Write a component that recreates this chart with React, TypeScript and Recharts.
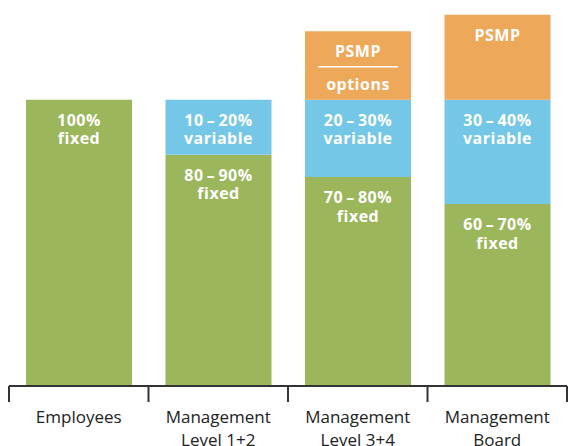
import React from "react";
import { BarChart, Bar, XAxis, YAxis, LabelList } from "recharts";

const categories = ["Employees", "Management|Level 1+2", "Management|Level 3+4", "Management|Board"];
const fixedValues = [100, 80.8, 73, 63.6];
const variableValues = [0, 19.2, 27, 36.4];
const psmpValues = [0, 0, 24, 29.7];
const DASH = "\u2009\u2013\u2009";
const fixedLabels = ["100%", `80${DASH}90%`, `70${DASH}80%`, `60${DASH}70%`];
const variableLabels = ["", `10${DASH}20%`, `20${DASH}30%`, `30${DASH}40%`];
const psmpLabels = ["", "", "PSMP", "PSMP"];
const psmpSubLabels = ["", "", "options", ""];

const GREEN = "#9BB65B";
const BLUE = "#74C7E6";
const ORANGE = "#EDA85A";
const FONT = "'Open Sans', sans-serif";

const data = categories.map((c, i) => ({
  name: c,
  fixed: fixedValues[i],
  variable: variableValues[i],
  psmp: psmpValues[i],
}));

const makeLabel = (values: number[], line1: string[], line2: string[], separator: boolean) => (props: any) => {
  const { x, y, width, value } = props;
  const index = categories.indexOf(value);
  if (index < 0 || !values[index]) return null;
  const cx = x + width / 2;
  const t1 = line1[index];
  const t2 = line2[index];
  const common = {
    textAnchor: "middle" as const,
    fill: "#fff",
    fontFamily: FONT,
    fontWeight: 700,
    fontSize: 16,
    letterSpacing: 0.5,
  };
  return (
    <g>
      {t1 ? (
        <text x={cx} y={y + 26} {...common}>
          {t1}
        </text>
      ) : null}
      {separator && t2 ? (
        <line x1={x + 13} x2={x + width - 13} y1={y + 35.5} y2={y + 35.5} stroke="#fff" strokeWidth={1.5} />
      ) : null}
      {t2 ? (
        <text x={cx} y={y + (separator ? 59 : 44.5)} {...common}>
          {t2}
        </text>
      ) : null}
    </g>
  );
};

const CustomTick = (props: any) => {
  const { x, y, payload, index, visibleTicksCount } = props;
  const half = payload && payload.offset ? payload.offset : 69.75;
  const lines = String(payload.value).split("|");
  const last = index === (visibleTicksCount ?? 4) - 1;
  return (
    <g>
      <line x1={x - half} x2={x - half} y1={y} y2={y + 16} stroke="#333" strokeWidth={2} />
      {last ? <line x1={x + half} x2={x + half} y1={y} y2={y + 16} stroke="#333" strokeWidth={2} /> : null}
      {lines.map((l: string, i: number) => (
        <text key={i} x={x} y={y + 37 + i * 23} textAnchor="middle" fill="#222" fontFamily={FONT} fontSize={17}>
          {l}
        </text>
      ))}
    </g>
  );
};

export default function App() {
  return (
    <div style={{ position: "absolute", left: 0, top: 0, width: 568, height: 446, background: "#fff", overflow: "hidden" }}>
      <BarChart width={568} height={446} data={data} margin={{ top: 14, right: 1, left: 9, bottom: 0 }}>
        <YAxis hide domain={[0, 130]} />
        <XAxis
          dataKey="name"
          height={60}
          interval={0}
          tickLine={false}
          tickSize={0}
          tickMargin={0}
          axisLine={{ stroke: "#333", strokeWidth: 2 }}
          tick={<CustomTick />}
        />
        <Bar dataKey="fixed" stackId="a" fill={GREEN} barSize={106} isAnimationActive={false}>
          <LabelList dataKey="name" content={makeLabel(fixedValues, fixedLabels, fixedLabels.map(() => "fixed"), false)} />
        </Bar>
        <Bar dataKey="variable" stackId="a" fill={BLUE} barSize={106} isAnimationActive={false}>
          <LabelList dataKey="name" content={makeLabel(variableValues, variableLabels, variableLabels.map(() => "variable"), false)} />
        </Bar>
        <Bar dataKey="psmp" stackId="a" fill={ORANGE} barSize={106} isAnimationActive={false}>
          <LabelList dataKey="name" content={makeLabel(psmpValues, psmpLabels, psmpSubLabels, true)} />
        </Bar>
      </BarChart>
    </div>
  );
}
